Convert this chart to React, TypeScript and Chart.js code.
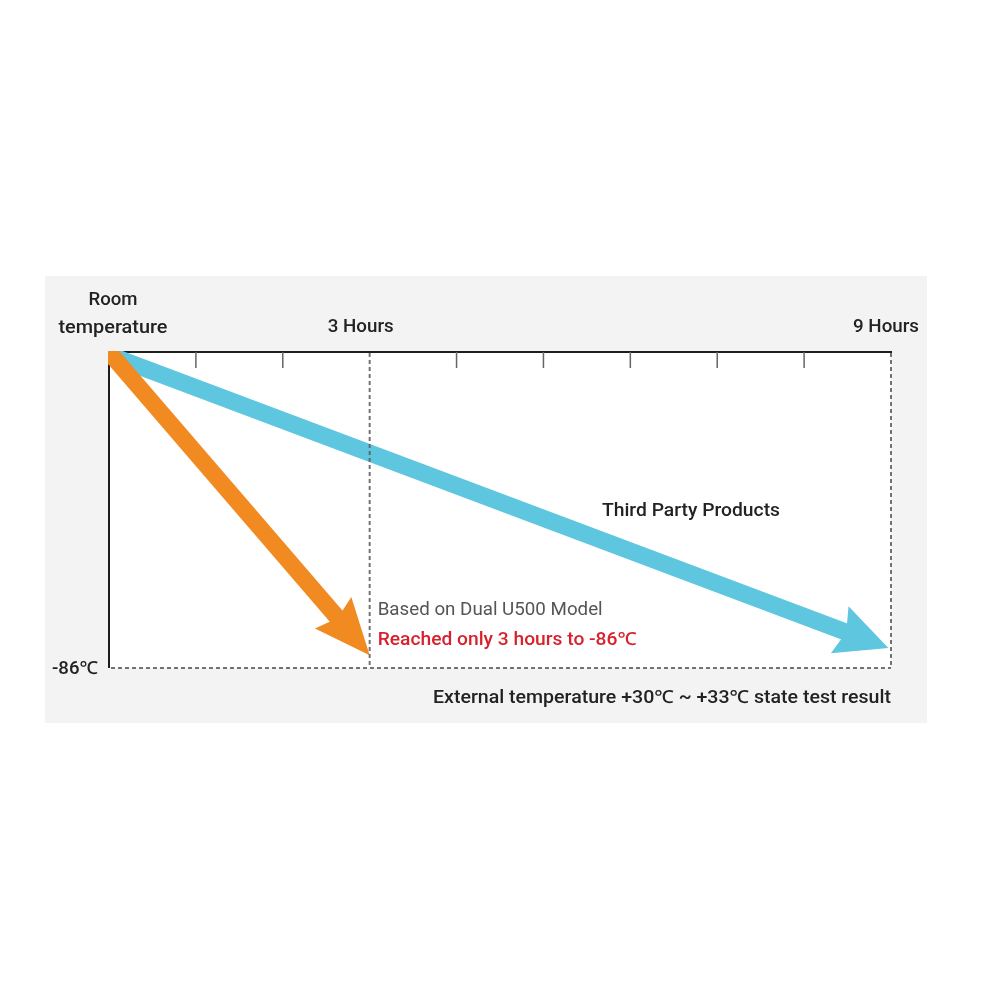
import { useEffect, useRef } from "react";
import { Chart, registerables } from "chart.js";

Chart.register(...registerables);

// ---- data ----
const hourTicks = [1, 2, 3, 4, 5, 6, 7, 8, 9];
const xTickLabelHours = [3, 9];
const xTickLabels = ["3 Hours", "9 Hours"];
const roomTempLabel = ["Room", "temperature"];
const yMinLabel = "-86℃";
const seriesNames = ["Dual U500 Model", "Third Party Products"];
const u500Hours = [0.04, 3];
const u500Temps = [23.5, -81.5];
const thirdHours = [0.04, 8.97];
const thirdTemps = [23.5, -79];
const roomTemp = 25;
const minTemp = -86;
const maxHours = 9;
const noteLines = ["Based on Dual U500 Model", "Reached only 3 hours to -86℃"];
const footnote = "External temperature +30℃ ~ +33℃ state test result";

const ORANGE = "#f28a22";
const BLUE = "#5ec6df";
const FONT = "Roboto, 'Noto Sans', sans-serif";

function fitText(
  ctx: CanvasRenderingContext2D,
  text: string,
  x: number,
  y: number,
  width: number,
  font: string,
  color: string,
  align: "left" | "center" | "right"
) {
  ctx.save();
  ctx.font = font;
  ctx.fillStyle = color;
  ctx.textBaseline = "middle";
  ctx.textAlign = "left";
  const w = ctx.measureText(text).width;
  const s = width / w;
  const left = align === "left" ? x : align === "right" ? x - width : x - width / 2;
  ctx.translate(left, y);
  ctx.scale(s, 1);
  ctx.fillText(text, 0, 0);
  ctx.restore();
}

function drawArrow(
  ctx: CanvasRenderingContext2D,
  x0: number,
  y0: number,
  x1: number,
  y1: number,
  color: string,
  lw: number,
  headLen: number,
  headHalf: number
) {
  const dx = x1 - x0;
  const dy = y1 - y0;
  const L = Math.hypot(dx, dy);
  const ux = dx / L;
  const uy = dy / L;
  const px = -uy;
  const py = ux;
  const bx = x1 - ux * headLen;
  const by = y1 - uy * headLen;
  const notch = 7;
  ctx.save();
  ctx.strokeStyle = color;
  ctx.fillStyle = color;
  ctx.lineWidth = lw;
  ctx.lineCap = "butt";
  ctx.beginPath();
  ctx.moveTo(x0 - ux * 6, y0 - uy * 6);
  ctx.lineTo(bx + ux * (notch + 3), by + uy * (notch + 3));
  ctx.stroke();
  ctx.beginPath();
  ctx.moveTo(x1, y1);
  ctx.lineTo(bx + px * headHalf, by + py * headHalf);
  ctx.lineTo(bx + ux * notch, by + uy * notch);
  ctx.lineTo(bx - px * headHalf, by - py * headHalf);
  ctx.closePath();
  ctx.fill();
  ctx.restore();
}

const decorPlugin = {
  id: "decor",
  beforeDraw(chart: any) {
    const ctx = chart.ctx as CanvasRenderingContext2D;
    const a = chart.chartArea;
    ctx.save();
    ctx.fillStyle = "#ffffff";
    ctx.fillRect(0, 0, chart.width, chart.height);
    ctx.fillStyle = "#f3f3f3";
    ctx.fillRect(45, 276, 882, 447);
    ctx.fillStyle = "#ffffff";
    ctx.fillRect(a.left, a.top, a.right - a.left, a.bottom - a.top);
    ctx.restore();
  },
  afterDatasetsDraw(chart: any) {
    const ctx = chart.ctx as CanvasRenderingContext2D;
    const a = chart.chartArea;
    const xs = chart.scales.x;
    const ys = chart.scales.y;

    // solid axes
    ctx.save();
    ctx.strokeStyle = "#1e1e1e";
    ctx.lineWidth = 2;
    ctx.beginPath();
    ctx.moveTo(a.left - 1, a.top);
    ctx.lineTo(a.right + 1, a.top);
    ctx.moveTo(a.left, a.top);
    ctx.lineTo(a.left, a.bottom);
    ctx.stroke();
    // inward ticks
    ctx.strokeStyle = "#666";
    ctx.lineWidth = 1.5;
    ctx.beginPath();
    hourTicks.forEach((h) => {
      if (h === 3 || h === maxHours) return;
      const px = xs.getPixelForValue(h);
      ctx.moveTo(px, a.top);
      ctx.lineTo(px, a.top + 16);
    });
    ctx.stroke();
    ctx.restore();

    // arrows
    const metas = [chart.getDatasetMeta(1), chart.getDatasetMeta(0)];
    const styles = [
      { color: BLUE, lw: 17, hl: 52, hh: 25 },
      { color: ORANGE, lw: 17, hl: 56, hh: 24 },
    ];
    ctx.save();
    ctx.beginPath();
    ctx.rect(a.left - 1, a.top - 1, a.right - a.left + 2, a.bottom - a.top + 2);
    ctx.clip();
    metas.forEach((m, i) => {
      const p0 = m.data[0];
      const p1 = m.data[m.data.length - 1];
      const s = styles[i];
      drawArrow(ctx, p0.x, p0.y, p1.x, p1.y, s.color, s.lw, s.hl, s.hh);
    });
    ctx.restore();

    // dashed lines
    ctx.save();
    ctx.strokeStyle = "rgba(90,90,90,0.85)";
    ctx.lineWidth = 2;
    ctx.setLineDash([4, 3]);
    const x3 = xs.getPixelForValue(3);
    ctx.beginPath();
    ctx.moveTo(x3, a.top + 1);
    ctx.lineTo(x3, a.bottom);
    ctx.moveTo(a.right, a.top + 1);
    ctx.lineTo(a.right, a.bottom);
    ctx.moveTo(a.left + 2, a.bottom);
    ctx.lineTo(a.right, a.bottom);
    ctx.stroke();
    ctx.restore();

    // texts
    const dark = "#222";
    const bold = `500 18px ${FONT}`;
    const yTop = ys.getPixelForValue(roomTemp);
    const yBot = ys.getPixelForValue(minTemp);
    fitText(ctx, roomTempLabel[0], a.left + 4, yTop - 52, 49, bold, dark, "center");
    fitText(ctx, roomTempLabel[1], a.left + 4, yTop - 24, 109, bold, dark, "center");
    fitText(ctx, xTickLabels[0], xs.getPixelForValue(xTickLabelHours[0]) - 9, yTop - 25, 66, bold, dark, "center");
    fitText(ctx, xTickLabels[1], xs.getPixelForValue(xTickLabelHours[1]) + 28, yTop - 25, 66, bold, dark, "right");
    fitText(ctx, yMinLabel, a.left - 11, yBot + 1, 46, bold, dark, "right");
    fitText(ctx, seriesNames[1], 602, 511, 178, bold, dark, "left");
    fitText(ctx, noteLines[0], x3 + 8, 610, 225, `400 18px ${FONT}`, "#555", "left");
    fitText(ctx, noteLines[1], x3 + 8, 640, 259, `500 18px ${FONT}`, "#d8212d", "left");
    fitText(ctx, footnote, a.right, yBot + 30, 458, bold, dark, "right");
  },
};

export default function App() {
  const ref = useRef<HTMLCanvasElement | null>(null);
  useEffect(() => {
    if (!ref.current) return;
    const chart = new Chart(ref.current, {
      type: "line",
      data: {
        datasets: [
          {
            label: seriesNames[0],
            data: u500Hours.map((h, i) => ({ x: h, y: u500Temps[i] })),
            borderColor: ORANGE,
            showLine: false,
            pointRadius: 0,
          },
          {
            label: seriesNames[1],
            data: thirdHours.map((h, i) => ({ x: h, y: thirdTemps[i] })),
            borderColor: BLUE,
            showLine: false,
            pointRadius: 0,
          },
        ],
      },
      options: {
        animation: false,
        responsive: false,
        devicePixelRatio: 1,
        layout: { padding: { left: 109, right: 109, top: 352, bottom: 332 } },
        plugins: { legend: { display: false }, tooltip: { enabled: false } },
        scales: {
          x: { type: "linear", min: 0, max: maxHours, display: false },
          y: { type: "linear", min: minTemp, max: roomTemp, display: false },
        },
      },
      plugins: [decorPlugin],
    });
    return () => chart.destroy();
  }, []);
  return (
    <div style={{ position: "fixed", left: 0, top: 0, width: 1000, height: 1000 }}>
      <canvas ref={ref} width={1000} height={1000} />
    </div>
  );
}
